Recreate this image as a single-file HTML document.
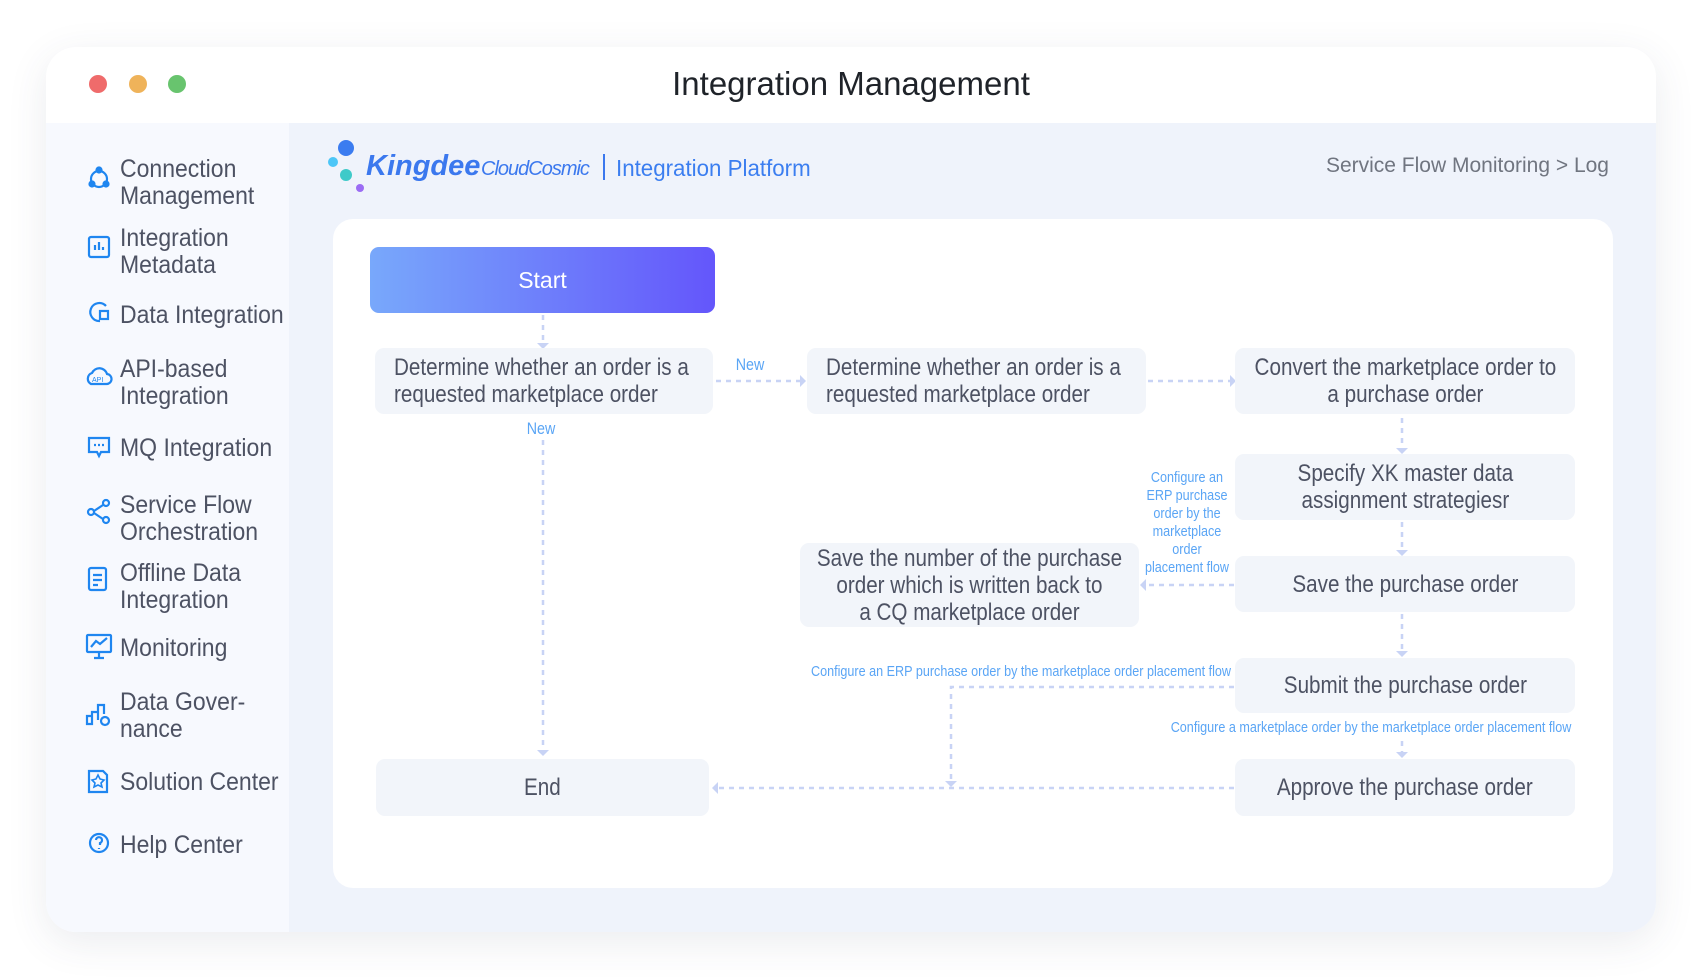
<!DOCTYPE html>
<html><head><meta charset="utf-8">
<style>
*{margin:0;padding:0;box-sizing:border-box}
body{width:1702px;height:979px;background:#fff;position:relative;overflow:hidden;font-family:"Liberation Sans",sans-serif}
.win{position:absolute;left:46px;top:47px;width:1610px;height:885px;border-radius:30px;background:#fff;box-shadow:0 10px 40px rgba(60,70,100,.10);overflow:hidden}
.side{position:absolute;left:0;top:76px;width:243px;height:809px;background:#f7f9fe}
.main{position:absolute;left:243px;top:76px;width:1367px;height:809px;background:#eff3fb}
.dot{position:absolute;border-radius:50%}
.abs{position:absolute;white-space:nowrap}
.n{display:inline-block;transform:scaleX(.92);transform-origin:left center}
.si{position:absolute;left:120px;font-size:25px;color:#4d5263;line-height:27px;white-space:nowrap}
.card{position:absolute;left:333px;top:219px;width:1280px;height:669px;background:#fff;border-radius:20px}
.node{position:absolute;background:#f2f5fa;border-radius:9px;display:flex;align-items:center;justify-content:center;color:#4d5263;font-size:24px;line-height:27px;text-align:center}
.node span{display:inline-block;transform:scaleX(.86);white-space:nowrap}
.lbl{position:absolute;color:#5aa5f5;font-size:15px;white-space:nowrap;transform:translateX(-50%) scaleX(.84);text-align:center;line-height:18px}
</style></head><body>
<div class="win">
  <div class="dot" style="left:43px;top:28px;width:18px;height:18px;background:#ef6b6b"></div>
  <div class="dot" style="left:83px;top:28px;width:18px;height:18px;background:#efb35a"></div>
  <div class="dot" style="left:122px;top:28px;width:18px;height:18px;background:#68c46e"></div>
  <div class="abs" style="left:0;width:1610px;text-align:center;top:17px;font-size:33px;color:#1f2329;line-height:40px">Integration Management</div>
  <div class="side"></div>
  <div class="main"></div>
</div>

<svg style="position:absolute;left:0;top:0" width="300" height="979" fill="none" stroke="#1f86f0" stroke-width="2.2">
  <circle cx="99" cy="179" r="8"/><circle cx="99" cy="170" r="2.5" fill="#1f86f0"/><circle cx="92" cy="184" r="2.5" fill="#1f86f0"/><circle cx="106" cy="184" r="2.5" fill="#1f86f0"/>
  <rect x="89" y="237" width="20" height="20" rx="2"/><path d="M95 250v-5M99 250v-8M103 250v-3"/>
  <path d="M106 306a9 9 0 1 0-6 15"/><rect x="100" y="311" width="8" height="8"/>
  <path d="M91 384a6 6 0 0 1 1-11a8 8 0 0 1 15 1a5 5 0 0 1-1 10z"/><text x="92" y="382" font-size="7" fill="#1f86f0" stroke="none" font-family="Liberation Sans">API</text>
  <path d="M89 438h20v14h-8l-2 4-2-4h-8z"/><path d="M94 445h2M98 445h2M102 445h2"/>
  <circle cx="91" cy="512" r="3"/><circle cx="106" cy="503" r="3"/><circle cx="106" cy="520" r="3"/><path d="M94 511l9-6M94 513l9 6"/>
  <rect x="89" y="568" width="17" height="22" rx="2"/><path d="M93 575h9M93 580h9M93 585h5"/>
  <rect x="87" y="635" width="24" height="17" rx="1"/><path d="M99 652v5M94 658h10M91 647l5-6 4 3 7-6"/>
  <path d="M87 724v-8h5v8zM92 724v-12h6v8M98 712v-7h6v9"/><circle cx="105" cy="721" r="4"/>
  <path d="M89 771h14l4 4v17h-18z"/><path d="M98 775l2 4 4 1-3 3 1 4-4-2-4 2 1-4-3-3 4-1z" stroke-width="1.6"/>
  <circle cx="99" cy="843" r="9"/><path d="M96 840a3 3 0 1 1 4 3v2M99 848v1"/>
</svg>
<div class="si" style="top:156px"><span class="n">Connection</span><br><span class="n">Management</span></div>
<div class="si" style="top:225px"><span class="n">Integration</span><br><span class="n">Metadata</span></div>
<div class="si" style="top:302px"><span class="n">Data Integration</span></div>
<div class="si" style="top:356px"><span class="n">API-based</span><br><span class="n">Integration</span></div>
<div class="si" style="top:435px"><span class="n">MQ Integration</span></div>
<div class="si" style="top:492px"><span class="n">Service Flow</span><br><span class="n">Orchestration</span></div>
<div class="si" style="top:560px"><span class="n">Offline Data</span><br><span class="n">Integration</span></div>
<div class="si" style="top:635px"><span class="n">Monitoring</span></div>
<div class="si" style="top:689px"><span class="n">Data Gover-</span><br><span class="n">nance</span></div>
<div class="si" style="top:769px"><span class="n">Solution Center</span></div>
<div class="si" style="top:832px"><span class="n">Help Center</span></div>

<div class="dot" style="left:338px;top:140px;width:16px;height:16px;background:#3b7cf0"></div>
<div class="dot" style="left:328px;top:157px;width:10px;height:10px;background:#4cc6f7"></div>
<div class="dot" style="left:340px;top:169px;width:12px;height:12px;background:#3fcac9"></div>
<div class="dot" style="left:356px;top:184px;width:8px;height:8px;background:#9b6cf4"></div>
<div class="abs" style="left:366px;top:151px;font-size:29px;font-weight:bold;font-style:italic;color:#3b78ee;line-height:30px">Kingdee</div>
<div class="abs" style="left:481px;top:157px;font-size:20px;font-style:italic;color:#3b78ee;line-height:24px;letter-spacing:-1px">CloudCosmic</div>
<div class="abs" style="left:603px;top:154px;width:2px;height:26px;background:#3b78ee"></div>
<div class="abs" style="left:616px;top:155px;font-size:23px;color:#3b7ef0;line-height:26px"><span class="n" style="transform:scaleX(.97)">Integration Platform</span></div>
<div class="abs" style="right:93px;top:153px;font-size:21px;color:#707580;line-height:26px">Service Flow Monitoring &gt; Log</div>

<div class="card"></div>

<svg style="position:absolute;left:0;top:0" width="1702" height="979" fill="none" stroke="#c8d3f5" stroke-width="2.5" stroke-dasharray="5 5">
  <path d="M543 315v28"/>
  <path d="M716 381h84"/>
  <path d="M543 440v310"/>
  <path d="M1148 381h82"/>
  <path d="M1402 418v30"/>
  <path d="M1402 522v28"/>
  <path d="M1234 585h-88"/>
  <path d="M1402 614v37"/>
  <path d="M1234 687h-283v94"/>
  <path d="M1402 741v12"/>
  <path d="M1234 788h-516"/>
  <g fill="#c8d3f5" stroke="none">
    <path d="M537 343h12l-6 6z"/>
    <path d="M800 375v12l6-6z"/>
    <path d="M537 750h12l-6 6z"/>
    <path d="M1230 375v12l6-6z"/>
    <path d="M1396 448h12l-6 6z"/>
    <path d="M1396 550h12l-6 6z"/>
    <path d="M1146 579v12l-6-6z"/>
    <path d="M1396 651h12l-6 6z"/>
    <path d="M945 781h12l-6 6z"/>
    <path d="M1396 752h12l-6 6z"/>
    <path d="M718 782v12l-6-6z"/>
  </g>
</svg>

<div class="abs" style="left:370px;top:247px;width:345px;height:66px;border-radius:9px;background:linear-gradient(90deg,#78a8fb,#6456fb);color:#fff;font-size:23px;display:flex;align-items:center;justify-content:center">Start</div>
<div class="node" style="left:375px;top:348px;width:338px;height:66px;justify-content:flex-start;padding-left:19px;text-align:left"><span style="transform-origin:left">Determine whether an order is a<br>requested marketplace order</span></div>
<div class="node" style="left:807px;top:348px;width:339px;height:66px;justify-content:flex-start;padding-left:19px;text-align:left"><span style="transform-origin:left">Determine whether an order is a<br>requested marketplace order</span></div>
<div class="node" style="left:1235px;top:348px;width:340px;height:66px"><span>Convert the marketplace order to<br>a purchase order</span></div>
<div class="node" style="left:1235px;top:454px;width:340px;height:66px"><span>Specify XK master data<br>assignment strategiesr</span></div>
<div class="node" style="left:800px;top:543px;width:339px;height:84px"><span>Save the number of the purchase<br>order which is written back to<br>a CQ marketplace order</span></div>
<div class="node" style="left:1235px;top:556px;width:340px;height:56px"><span>Save the purchase order</span></div>
<div class="node" style="left:1235px;top:658px;width:340px;height:55px"><span>Submit the purchase order</span></div>
<div class="node" style="left:376px;top:759px;width:333px;height:57px"><span>End</span></div>
<div class="node" style="left:1235px;top:759px;width:340px;height:57px"><span>Approve the purchase order</span></div>

<div class="lbl" style="left:750px;top:356px;font-size:17px">New</div>
<div class="lbl" style="left:541px;top:420px;font-size:17px">New</div>
<div class="lbl" style="left:1187px;top:469px">Configure an<br>ERP purchase<br>order by the<br>marketplace<br>order<br>placement flow</div>
<div class="lbl" style="left:1021px;top:663px">Configure an ERP purchase order by the marketplace order placement flow</div>
<div class="lbl" style="left:1371px;top:719px">Configure a marketplace order by the marketplace order placement flow</div>
</body></html>
